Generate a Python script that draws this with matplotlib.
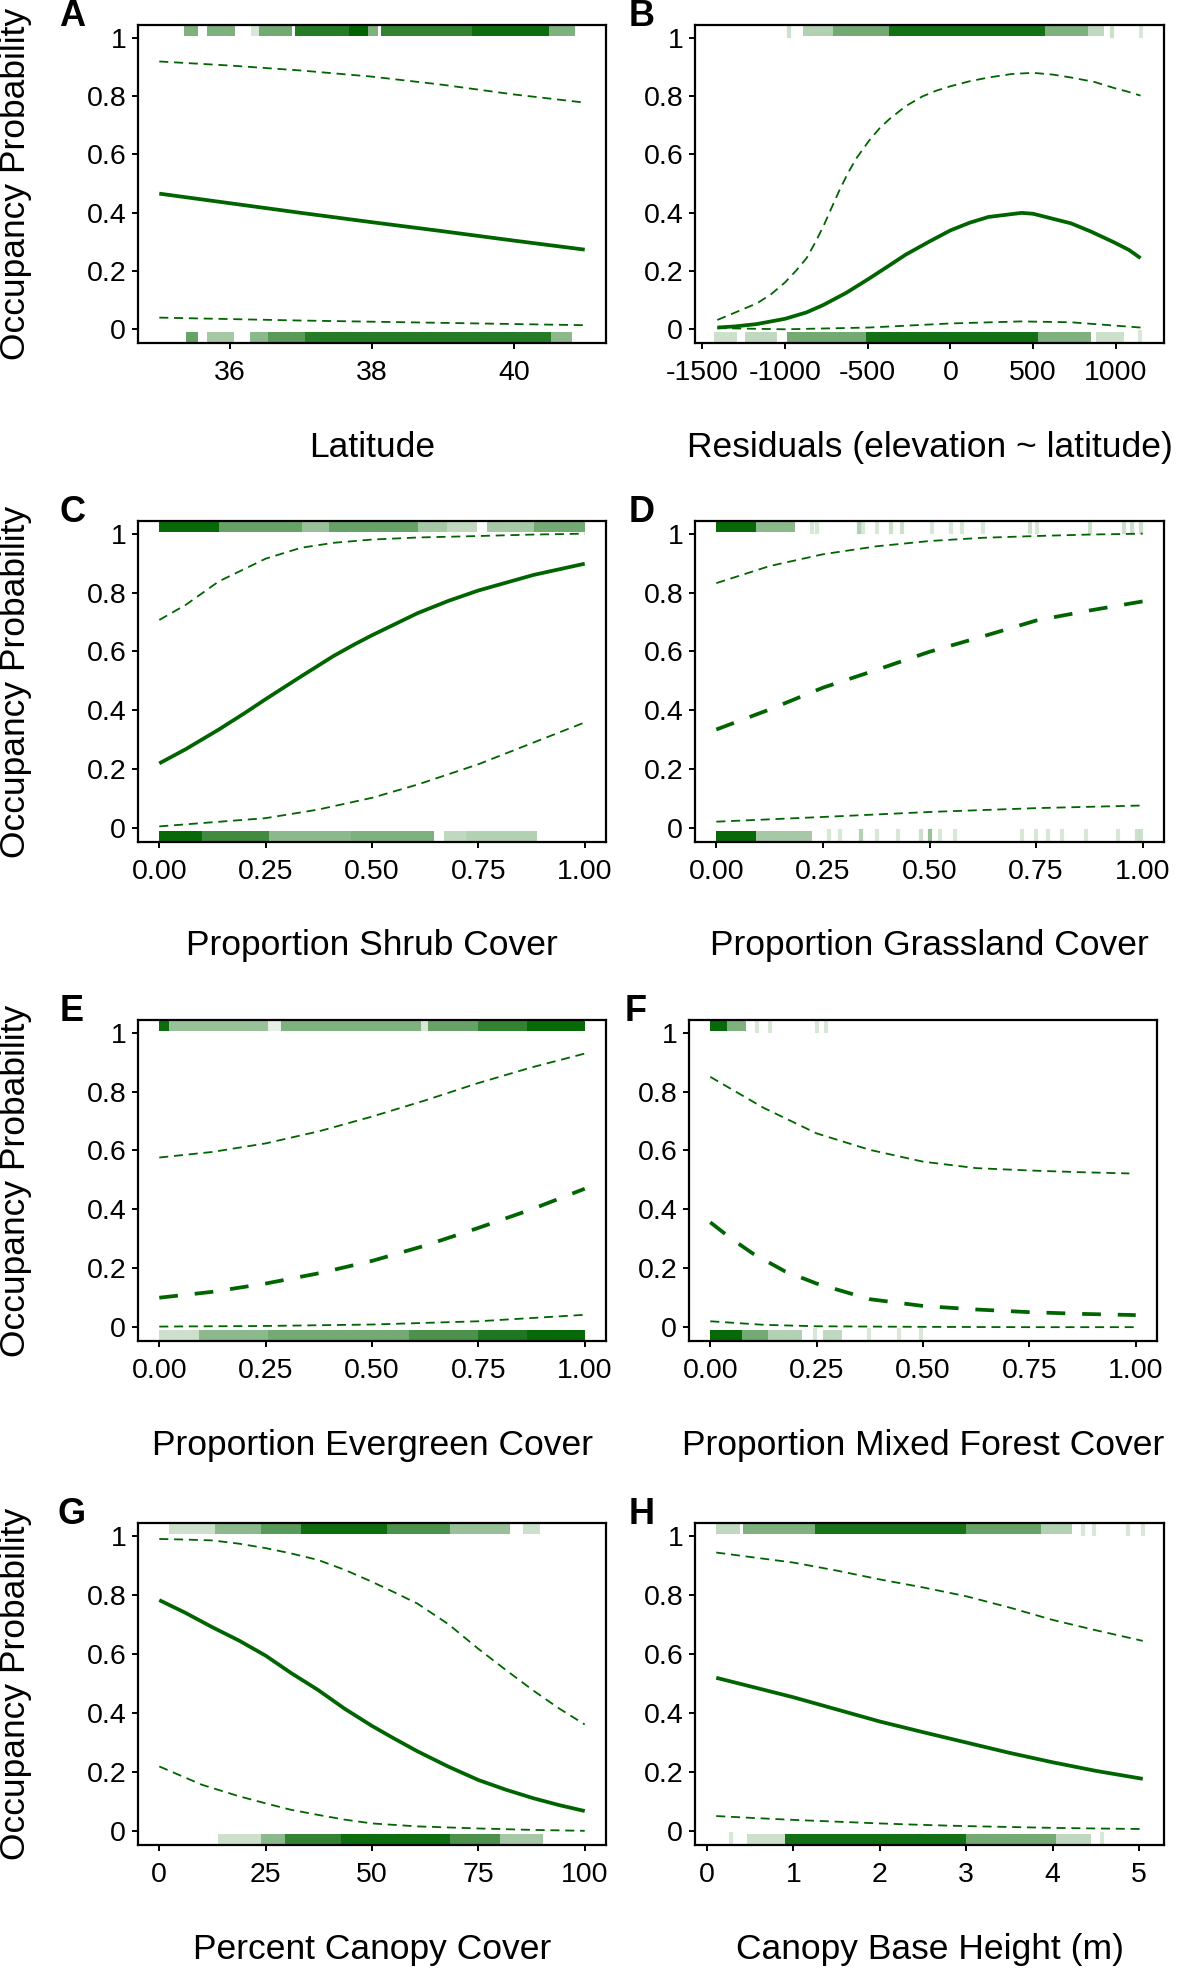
import matplotlib
matplotlib.use("Agg")
import matplotlib.pyplot as plt

GREEN = "#006400"
W, H = 1180, 1970
plt.rcParams["font.family"] = ["Liberation Sans", "DejaVu Sans"]

# ---- curves ----
a_x = [35, 36, 37, 38, 39, 40, 41]
a_mean = [0.465, 0.432, 0.399, 0.367, 0.336, 0.304, 0.273]
a_hi = [0.918, 0.904, 0.887, 0.866, 0.838, 0.805, 0.777]
a_lo = [0.040, 0.035, 0.030, 0.026, 0.022, 0.018, 0.014]

b_x = [-1410, -1300, -1170, -1000, -870, -770, -630, -494, -380, -270, -130, 0, 115, 230, 430,
       500, 730, 850, 990, 1080, 1150]
b_mean = [0.006, 0.010, 0.018, 0.036, 0.058, 0.083, 0.125, 0.173, 0.215, 0.256, 0.30, 0.339,
          0.365, 0.385, 0.399, 0.396, 0.363, 0.335, 0.298, 0.272, 0.244]
b_hi_x = [-1410, -1300, -1170, -1085, -1000, -935, -870, -820, -770, -720, -670, -620, -570, -494,
          -430, -370, -270, -170, -85, 0, 115, 230, 370, 500, 620, 730, 870, 990, 1070, 1150]
b_hi = [0.032, 0.058, 0.089, 0.12, 0.161, 0.20, 0.244, 0.295, 0.351, 0.415, 0.478, 0.535, 0.585,
        0.645, 0.688, 0.72, 0.765, 0.798, 0.818, 0.833, 0.85, 0.863, 0.875, 0.879, 0.873, 0.863,
        0.848, 0.827, 0.815, 0.801]
b_lo_x = [-1410, -1000, -494, 0, 430, 730, 1150]
b_lo = [0.004, 0.0, 0.006, 0.020, 0.027, 0.024, 0.006]

c_x = [0, 0.062, 0.14, 0.2, 0.25, 0.333, 0.41, 0.46, 0.5, 0.607, 0.68, 0.75, 0.88, 1.0]
c_mean = [0.220, 0.268, 0.335, 0.39, 0.438, 0.515, 0.585, 0.625, 0.655, 0.73, 0.772, 0.807, 0.86, 0.898]
c_hi_x = [0, 0.062, 0.14, 0.25, 0.333, 0.41, 0.5, 0.607, 0.75, 0.88, 1.0]
c_hi = [0.707, 0.758, 0.838, 0.915, 0.952, 0.969, 0.98, 0.987, 0.992, 0.997, 1.0]
c_lo_x = [0, 0.25, 0.373, 0.5, 0.607, 0.75, 0.88, 1.0]
c_lo = [0.006, 0.034, 0.063, 0.103, 0.148, 0.217, 0.291, 0.359]

d_x = [0, 0.125, 0.25, 0.375, 0.5, 0.625, 0.75, 0.875, 1.0]
d_mean = [0.335, 0.403, 0.477, 0.537, 0.599, 0.651, 0.705, 0.739, 0.77]
d_hi = [0.832, 0.89, 0.93, 0.957, 0.975, 0.986, 0.992, 0.997, 1.0]
d_lo_x = [0, 0.25, 0.5, 0.75, 1.0]
d_lo = [0.022, 0.038, 0.055, 0.068, 0.077]

e_x = [0, 0.125, 0.25, 0.375, 0.5, 0.625, 0.75, 0.875, 1.0]
e_mean = [0.10, 0.12, 0.148, 0.183, 0.225, 0.277, 0.337, 0.40, 0.47]
e_hi = [0.576, 0.595, 0.624, 0.665, 0.715, 0.77, 0.829, 0.882, 0.929]
e_lo_x = [0, 0.25, 0.5, 0.75, 1.0]
e_lo = [0.002, 0.004, 0.009, 0.020, 0.042]

f_x = [0, 0.05, 0.1, 0.175, 0.25, 0.375, 0.5, 0.625, 0.75, 0.875, 1.0]
f_mean = [0.356, 0.30, 0.25, 0.19, 0.148, 0.095, 0.072, 0.06, 0.051, 0.045, 0.041]
f_hi_x = [0, 0.125, 0.25, 0.375, 0.5, 0.625, 0.75, 0.875, 0.985]
f_hi = [0.85, 0.745, 0.658, 0.602, 0.562, 0.54, 0.532, 0.526, 0.522]
f_lo_x = [0, 0.125, 0.25, 0.5, 0.75, 1.0]
f_lo = [0.02, 0.008, 0.003, 0.001, 0.0, 0.0]

g_x = [0, 6, 12.5, 18.75, 25, 31, 37.3, 43.5, 50, 55, 60.7, 68, 75, 81.5, 88, 94, 100]
g_mean = [0.782, 0.74, 0.69, 0.645, 0.594, 0.535, 0.478, 0.415, 0.356, 0.315, 0.27, 0.218, 0.173,
          0.14, 0.111, 0.088, 0.068]
g_hi = [0.989, 0.987, 0.984, 0.973, 0.958, 0.94, 0.918, 0.885, 0.844, 0.81, 0.77, 0.70, 0.617,
        0.545, 0.475, 0.415, 0.361]
g_lo_x = [0, 10, 18.75, 25, 31, 37.3, 43.5, 50, 60.7, 75, 88, 100]
g_lo = [0.219, 0.157, 0.118, 0.094, 0.072, 0.055, 0.039, 0.026, 0.016, 0.009, 0.004, 0.001]

h_x = [0.106, 0.5, 1, 1.5, 2, 2.5, 3, 3.5, 4, 4.5, 5.044]
h_mean = [0.519, 0.49, 0.453, 0.412, 0.371, 0.335, 0.30, 0.265, 0.233, 0.204, 0.177]
h_hi = [0.943, 0.928, 0.909, 0.882, 0.852, 0.825, 0.795, 0.757, 0.715, 0.68, 0.644]
h_lo = [0.051, 0.045, 0.038, 0.032, 0.026, 0.021, 0.017, 0.014, 0.011, 0.009, 0.007]

# ---- rugs: (x0, x1, alpha); x0 == x1 is a single mark ----
a_rug_top = [(35.35, 35.55, 0.5), (35.67, 36.07, 0.5), (36.3, 36.4, 0.15), (36.4, 36.87, 0.55),
             (36.91, 37.67, 0.85), (37.67, 37.95, 1.0), (37.95, 38.09, 0.5), (38.13, 39.41, 0.8),
             (39.41, 40.49, 0.95), (40.49, 40.86, 0.5)]
a_rug_bot = [(35.38, 35.55, 0.6), (35.67, 36.05, 0.35), (36.28, 36.53, 0.45), (36.53, 37.06, 0.65),
             (37.06, 40.53, 0.85), (40.53, 40.82, 0.45)]
b_rug_top = [(-974, -974, 0.2), (-890, -710, 0.3), (-710, -370, 0.55), (-370, 570, 0.92),
             (570, 830, 0.5), (830, 930, 0.25), (980, 980, 0.2), (1150, 1150, 0.15)]
b_rug_bot = [(-1430, -1290, 0.2), (-1240, -1050, 0.25), (-990, -510, 0.55), (-510, 530, 0.92),
             (530, 850, 0.5), (880, 1050, 0.2), (1146, 1146, 0.15)]
c_rug_top = [(0, 0.14, 0.97), (0.14, 0.335, 0.6), (0.335, 0.4, 0.4), (0.4, 0.607, 0.6),
             (0.607, 0.677, 0.35), (0.677, 0.747, 0.25), (0.77, 0.88, 0.35), (0.88, 1.0, 0.55)]
c_rug_bot = [(0, 0.1, 0.97), (0.1, 0.257, 0.75), (0.257, 0.45, 0.45), (0.45, 0.646, 0.5),
             (0.67, 0.72, 0.25), (0.72, 0.887, 0.3)]
d_rug_top = [(0, 0.092, 0.97), (0.092, 0.184, 0.45), (0.224, 0.224, 0.15), (0.237, 0.237, 0.15),
             (0.334, 0.334, 0.3), (0.343, 0.343, 0.15), (0.378, 0.378, 0.15), (0.409, 0.409, 0.2),
             (0.436, 0.436, 0.2), (0.506, 0.506, 0.15), (0.55, 0.55, 0.15), (0.577, 0.577, 0.15),
             (0.625, 0.625, 0.15), (0.735, 0.735, 0.2), (0.753, 0.753, 0.15), (0.877, 0.877, 0.2),
             (0.956, 0.956, 0.2), (0.974, 0.974, 0.2), (0.996, 0.996, 0.2)]
d_rug_bot = [(0, 0.092, 0.97), (0.092, 0.224, 0.35), (0.264, 0.264, 0.15), (0.29, 0.29, 0.15),
             (0.339, 0.339, 0.3), (0.378, 0.378, 0.15), (0.427, 0.427, 0.15), (0.48, 0.48, 0.2),
             (0.502, 0.502, 0.4), (0.524, 0.524, 0.15), (0.559, 0.559, 0.15), (0.718, 0.718, 0.15),
             (0.749, 0.749, 0.15), (0.778, 0.778, 0.15), (0.81, 0.81, 0.15), (0.868, 0.868, 0.15),
             (0.943, 0.943, 0.15), (0.987, 0.987, 0.2), (0.996, 0.996, 0.2)]
e_rug_top = [(0, 0.022, 0.95), (0.022, 0.256, 0.4), (0.256, 0.287, 0.1), (0.287, 0.614, 0.5),
             (0.614, 0.632, 0.15), (0.632, 0.749, 0.6), (0.749, 0.865, 0.8), (0.865, 1.0, 0.97)]
e_rug_bot = [(0, 0.094, 0.2), (0.094, 0.256, 0.45), (0.256, 0.587, 0.55), (0.587, 0.749, 0.7),
             (0.749, 0.865, 0.88), (0.865, 1.0, 0.97)]
f_rug_top = [(0, 0.039, 0.97), (0.039, 0.083, 0.5), (0.109, 0.109, 0.15), (0.14, 0.14, 0.15),
             (0.25, 0.25, 0.15), (0.272, 0.272, 0.15)]
f_rug_bot = [(0, 0.074, 0.97), (0.074, 0.136, 0.55), (0.136, 0.215, 0.3), (0.246, 0.246, 0.15),
             (0.265, 0.31, 0.25), (0.373, 0.373, 0.15), (0.444, 0.444, 0.15), (0.496, 0.496, 0.15)]
g_rug_top = [(2.2, 13.1, 0.2), (13.1, 24.0, 0.45), (24.0, 33.4, 0.65), (33.4, 53.6, 0.95),
             (53.6, 68.4, 0.7), (68.4, 82.5, 0.4), (85.6, 89.5, 0.2)]
g_rug_bot = [(13.9, 24.0, 0.2), (24.0, 29.5, 0.45), (29.5, 42.7, 0.8), (42.7, 68.4, 0.95),
             (68.4, 80.1, 0.7), (80.1, 90.3, 0.35)]
h_rug_top = [(0.105, 0.376, 0.25), (0.42, 1.25, 0.5), (1.25, 3.0, 0.9), (3.0, 3.87, 0.6),
             (3.87, 4.22, 0.3), (4.35, 4.35, 0.15), (4.48, 4.48, 0.15), (4.87, 4.87, 0.15),
             (5.05, 5.05, 0.15)]
h_rug_bot = [(0.28, 0.28, 0.15), (0.46, 0.9, 0.2), (0.9, 3.0, 0.92), (3.0, 4.04, 0.55),
             (4.04, 4.44, 0.25), (4.57, 4.57, 0.15)]

prop_ticks = [0, 0.25, 0.5, 0.75, 1.0]
prop_labels = ["0.00", "0.25", "0.50", "0.75", "1.00"]

panels = [
    # letter, box px (left, top, right, bottom), xlim, xticks, xticklabels, xlabel, data
    ("A", (138, 25, 606, 343), (34.7, 41.3), [36, 38, 40], ["36", "38", "40"], "Latitude",
     (a_x, a_mean), (a_x, a_hi), (a_x, a_lo), "solid", a_rug_top, a_rug_bot),
    ("B", (695, 25, 1164, 343), (-1545, 1292), [-1500, -1000, -500, 0, 500, 1000],
     ["-1500", "-1000", "-500", "0", "500", "1000"], "Residuals (elevation ~ latitude)",
     (b_x, b_mean), (b_hi_x, b_hi), (b_lo_x, b_lo), "solid", b_rug_top, b_rug_bot),
    ("C", (138, 521, 606, 842), (-0.05, 1.05), prop_ticks, prop_labels, "Proportion Shrub Cover",
     (c_x, c_mean), (c_hi_x, c_hi), (c_lo_x, c_lo), "solid", c_rug_top, c_rug_bot),
    ("D", (695, 521, 1164, 842), (-0.05, 1.05), prop_ticks, prop_labels, "Proportion Grassland Cover",
     (d_x, d_mean), (d_x, d_hi), (d_lo_x, d_lo), "dashed", d_rug_top, d_rug_bot),
    ("E", (138, 1020, 606, 1341), (-0.05, 1.05), prop_ticks, prop_labels, "Proportion Evergreen Cover",
     (e_x, e_mean), (e_x, e_hi), (e_lo_x, e_lo), "dashed", e_rug_top, e_rug_bot),
    ("F", (689, 1020, 1157, 1341), (-0.05, 1.05), prop_ticks, prop_labels, "Proportion Mixed Forest Cover",
     (f_x, f_mean), (f_hi_x, f_hi), (f_lo_x, f_lo), "dashed", f_rug_top, f_rug_bot),
    ("G", (138, 1523, 606, 1845), (-5, 105), [0, 25, 50, 75, 100], ["0", "25", "50", "75", "100"],
     "Percent Canopy Cover", (g_x, g_mean), (g_x, g_hi), (g_lo_x, g_lo), "solid", g_rug_top, g_rug_bot),
    ("H", (695, 1523, 1164, 1845), (-0.14, 5.29), [0, 1, 2, 3, 4, 5], ["0", "1", "2", "3", "4", "5"],
     "Canopy Base Height (m)", (h_x, h_mean), (h_x, h_hi), (h_x, h_lo), "solid", h_rug_top, h_rug_bot),
]

fig = plt.figure(figsize=(W / 100, H / 100), dpi=100)

for i, (letter, box, xlim, xt, xtl, xlab, mean, hi, lo, style, rtop, rbot) in enumerate(panels):
    l, t, r, b = box
    ax = fig.add_axes([l / W, 1 - b / H, (r - l) / W, (b - t) / H])
    ax.set_xlim(*xlim)
    ax.set_ylim(-0.047, 1.043)

    # rugs attached to the panel edges
    for rug, (y0, y1) in ((rtop, (0.965, 1.0)), (rbot, (0.0, 0.035))):
        for x0, x1, al in rug:
            if x1 > x0:
                ax.axvspan(x0, x1, ymin=y0, ymax=y1, color=GREEN, alpha=al, lw=0)
            else:
                ax.axvline(x0, ymin=y0, ymax=y1, color=GREEN, alpha=al, lw=3)

    ax.plot(*hi, color=GREEN, lw=1.3, dashes=(5, 3.2))
    ax.plot(*lo, color=GREEN, lw=1.3, dashes=(5, 3.2))
    if style == "solid":
        ax.plot(*mean, color=GREEN, lw=2.7, solid_capstyle="butt", solid_joinstyle="round")
    else:
        ax.plot(*mean, color=GREEN, lw=2.7, dashes=(5, 4.5))

    ax.set_yticks([0, 0.2, 0.4, 0.6, 0.8, 1.0])
    ax.set_yticklabels(["0", "0.2", "0.4", "0.6", "0.8", "1"])
    ax.set_xticks(xt)
    ax.set_xticklabels(xtl)
    ax.tick_params(labelsize=20.5, length=4.5, width=1.4, color="black", labelcolor="black")
    ax.tick_params(axis="x", pad=8)
    ax.tick_params(axis="y", pad=4)
    for sp in ax.spines.values():
        sp.set_linewidth(1.6)
        sp.set_color("black")

    ax.set_xlabel(xlab, fontsize=25.5)
    ax.xaxis.set_label_coords(0.5, -104 / (b - t))
    ax.xaxis.label.set_va("center")
    if i % 2 == 0:
        ax.set_ylabel("Occupancy Probability", fontsize=25.5)
        ax.yaxis.set_label_coords(-(l - 16) / (r - l), 0.5)
        ax.yaxis.label.set_va("center")

    dx = -66 if i % 2 == 0 else -53
    ax.annotate(letter, xy=(0, 1), xycoords="axes fraction", xytext=(dx * 0.72, 6),
                textcoords="offset points", ha="center", va="center",
                fontsize=26, fontweight="bold")

fig.savefig("out.png", dpi=100)
